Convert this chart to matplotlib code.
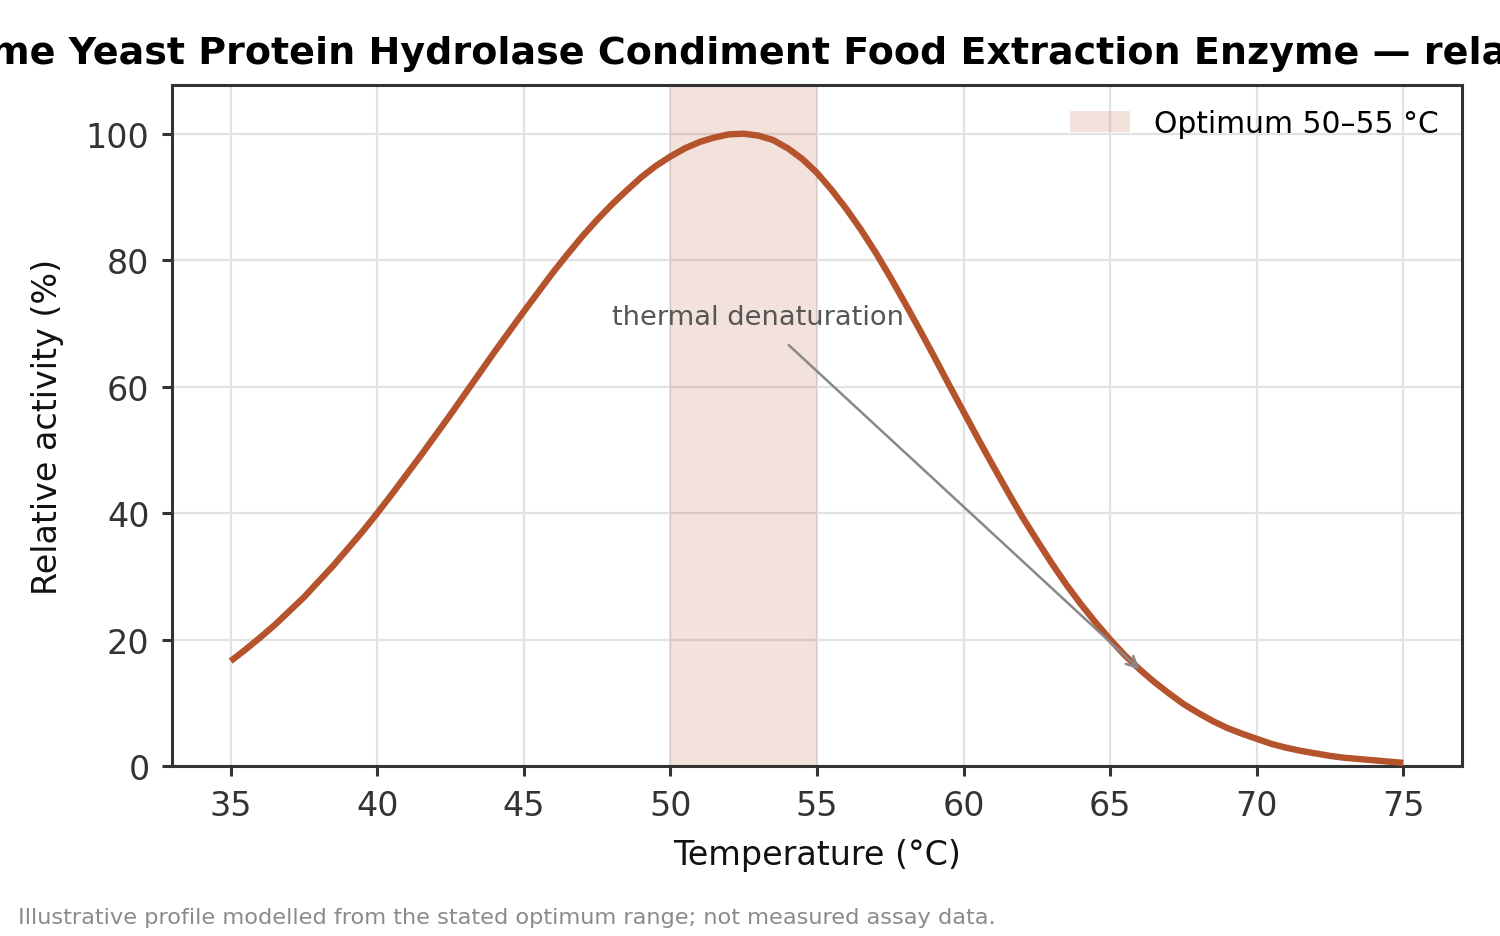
import matplotlib
matplotlib.use("Agg")
import matplotlib.pyplot as plt
from matplotlib.patches import Patch

# ---- data ----
temperature_c = [35, 35.5, 36, 36.5, 37, 37.5, 38, 38.5, 39, 39.5, 40, 40.5, 41, 41.5,
                 42, 42.5, 43, 43.5, 44, 44.5, 45, 45.5, 46, 46.5, 47, 47.5, 48, 48.5,
                 49, 49.5, 50, 50.5, 51, 51.5, 52, 52.5, 53, 53.5, 54, 54.5, 55, 55.5,
                 56, 56.5, 57, 57.5, 58, 58.5, 59, 59.5, 60, 60.5, 61, 61.5, 62, 62.5,
                 63, 63.5, 64, 64.5, 65, 65.5, 66, 66.5, 67, 67.5, 68, 68.5, 69, 69.5,
                 70, 70.5, 71, 71.5, 72, 72.5, 73, 73.5, 74, 74.5, 75]
relative_activity = [16.6, 18.4, 20.3, 22.3, 24.5, 26.7, 29.2, 31.7, 34.4, 37.1, 40.0,
                     43.0, 46.1, 49.2, 52.4, 55.6, 58.9, 62.2, 65.5, 68.7, 71.9, 75.0,
                     78.1, 81.0, 83.8, 86.4, 88.8, 91.0, 93.1, 94.9, 96.4, 97.7, 98.7,
                     99.4, 99.9, 100.0, 99.7, 99.0, 97.7, 96.0, 93.8, 91.1, 88.1, 84.8,
                     81.2, 77.3, 73.2, 69.0, 64.7, 60.3, 56.0, 51.7, 47.5, 43.4, 39.4,
                     35.7, 32.1, 28.7, 25.6, 22.7, 20.0, 17.5, 15.3, 13.3, 11.5, 9.8,
                     8.4, 7.1, 6.0, 5.1, 4.3, 3.5, 2.9, 2.4, 2.0, 1.6, 1.3, 1.1, 0.9,
                     0.7, 0.5]
optimum_range = [50, 55]
x_ticks = [35, 40, 45, 50, 55, 60, 65, 70, 75]
y_ticks = [0, 20, 40, 60, 80, 100]
annot_point = (66, 15.3)
annot_text_pos = (53, 71)

title = "Enzyme Yeast Protein Hydrolase Condiment Food Extraction Enzyme \u2014 relative activity"
footnote = "Illustrative profile modelled from the stated optimum range; not measured assay data."

line_color = "#b5532c"

plt.rcParams['font.family'] = ['DejaVu Sans']

fig = plt.figure(figsize=(7.5, 4.685), dpi=200)
ax = fig.add_axes([0.1147, 0.1814, 0.86, 0.7268])

ax.set_axisbelow(True)
ax.grid(True, color="#e2e2e2", linewidth=0.8)

ax.axvspan(optimum_range[0], optimum_range[1], color=line_color, alpha=0.17,
           linewidth=0, zorder=1)
ax.plot(temperature_c, relative_activity, color=line_color, linewidth=2.3,
        solid_joinstyle='round', solid_capstyle='butt', zorder=3)

ax.annotate("thermal denaturation", xy=annot_point, xytext=annot_text_pos,
            ha='center', va='center', fontsize=9.8, color="#555555",
            arrowprops=dict(arrowstyle='->', color="#888888", lw=0.9,
                            shrinkA=5, shrinkB=0), zorder=4)

ax.set_xlim(33, 77)
ax.set_ylim(0, 107.7)
ax.set_xticks(x_ticks)
ax.set_yticks(y_ticks)
ax.tick_params(axis='both', labelsize=12, colors="#333333", length=3.6, width=1.1,
               direction='out', pad=4.5)

for s in ax.spines.values():
    s.set_color("#333333")
    s.set_linewidth(1.1)

ax.set_xlabel("Temperature (\u00b0C)", fontsize=12, color="#111111", labelpad=6)
ax.set_ylabel("Relative activity (%)", fontsize=12, color="#111111", labelpad=8)
ax.set_title(title, fontsize=13.7, fontweight='bold', pad=8, x=0.507)

handle = Patch(facecolor=line_color, alpha=0.17, edgecolor='none',
               label="Optimum 50\u201355 \u00b0C")
ax.legend(handles=[handle], loc='upper right', frameon=False, fontsize=10.7,
          borderaxespad=0.4)

fig.text(0.012, 0.02, footnote, fontsize=8.1, color="#8a8a8a", ha='left', va='center')

fig.savefig("out.png", dpi=200)
